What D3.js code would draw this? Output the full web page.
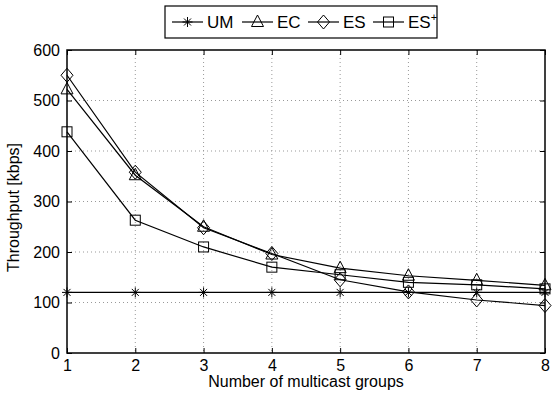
<!DOCTYPE html>
<html>
<head>
<meta charset="utf-8">
<script src="https://cdn.jsdelivr.net/npm/d3@7"></script>
<style>
  body { margin: 0; background: #fff; }
  svg text { font-family: "Liberation Sans", Arial, sans-serif; fill: #000; }
</style>
</head>
<body>
<svg id="chart" width="559" height="398"></svg>
<script>
// data
const groups = [1, 2, 3, 4, 5, 6, 7, 8];
const UM = [120, 120, 120, 120, 120, 120, 120, 120];
const EC = [522, 352, 250, 195, 168, 153, 144, 134];
const ES = [550, 358, 248, 197, 145, 121, 105, 94];
const ESplus = [438, 263, 210, 170, 155, 140, 135, 127];
const yTicks = [0, 100, 200, 300, 400, 500, 600];

const series = [
  { name: "UM", values: UM, marker: "star" },
  { name: "EC", values: EC, marker: "triangle" },
  { name: "ES", values: ES, marker: "diamond" },
  { name: "ES+", values: ESplus, marker: "square" },
];

const svg = d3.select("#chart");
const margin = { top: 50, right: 14, bottom: 45, left: 67 };
const width = 559 - margin.left - margin.right,
  height = 398 - margin.top - margin.bottom;

const g = svg
  .append("g")
  .attr("transform", "translate(" + margin.left + "," + margin.top + ")");

const xScale = d3.scaleLinear().domain([1, 8]).range([0, width]);
const yScale = d3.scaleLinear().domain([0, 600]).range([height, 0]);

//===== grid =====
g.selectAll(".vgrid")
  .data(groups.slice(1, -1))
  .enter()
  .append("line")
  .attr("x1", (d) => xScale(d))
  .attr("x2", (d) => xScale(d))
  .attr("y1", 0)
  .attr("y2", height)
  .attr("stroke", "#999")
  .attr("stroke-dasharray", "1,3");
g.selectAll(".hgrid")
  .data(yTicks.slice(1, -1))
  .enter()
  .append("line")
  .attr("y1", (d) => yScale(d))
  .attr("y2", (d) => yScale(d))
  .attr("x1", 0)
  .attr("x2", width)
  .attr("stroke", "#999")
  .attr("stroke-dasharray", "1,3");

//===== axes (ticks pointing inward, box all round) =====
const xAxis = d3.axisBottom(xScale).tickValues(groups).tickSize(-5).tickPadding(7).tickFormat(d3.format("d"));
const yAxis = d3.axisLeft(yScale).tickValues(yTicks).tickSize(-5).tickPadding(7);
const xTop = d3.axisTop(xScale).tickValues(groups).tickSize(-5).tickFormat("");
const yRight = d3.axisRight(yScale).tickValues(yTicks).tickSize(-5).tickFormat("");

const styleAxis = (sel) => {
  sel.selectAll(".domain").remove();
  sel.selectAll("line").attr("stroke", "#000");
  sel.selectAll("text").style("font-size", "16px");
};
g.append("g").attr("transform", `translate(0,${height})`).call(xAxis).call(styleAxis);
g.append("g").call(yAxis).call(styleAxis);
g.append("g").call(xTop).call(styleAxis);
g.append("g").attr("transform", `translate(${width},0)`).call(yRight).call(styleAxis);

g.append("rect")
  .attr("width", width)
  .attr("height", height)
  .attr("fill", "none")
  .attr("stroke", "#000")
  .attr("stroke-width", 1.5);

//===== lines and markers =====
const line = d3
  .line()
  .x((d, i) => xScale(groups[i]))
  .y((d) => yScale(d));

const drawMarker = (sel, type) => {
  if (type === "star") {
    sel.append("path")
      .attr("d", "M-5,0H5M0,-5V5M-3.5,-3.5L3.5,3.5M-3.5,3.5L3.5,-3.5")
      .attr("stroke", "#000").attr("fill", "none");
  } else if (type === "triangle") {
    sel.append("path").attr("d", "M0,-7L6,4.5H-6Z")
      .attr("stroke", "#000").attr("fill", "none");
  } else if (type === "diamond") {
    sel.append("path").attr("d", "M0,-7L6,0L0,7L-6,0Z")
      .attr("stroke", "#000").attr("fill", "none");
  } else {
    sel.append("rect").attr("x", -5).attr("y", -5).attr("width", 10).attr("height", 10)
      .attr("stroke", "#000").attr("fill", "none");
  }
};

series.forEach((s) => {
  g.append("path")
    .datum(s.values)
    .attr("d", line)
    .attr("fill", "none")
    .attr("stroke", "#000")
    .attr("stroke-width", 1.2);
  s.values.forEach((v, i) => {
    const m = g.append("g").attr("transform", `translate(${xScale(groups[i])},${yScale(v)})`);
    drawMarker(m, s.marker);
  });
});

//===== axis labels =====
svg.append("text")
  .attr("x", margin.left + width / 2)
  .attr("y", 387)
  .attr("text-anchor", "middle")
  .style("font-size", "16px")
  .text("Number of multicast groups");
svg.append("text")
  .attr("transform", `translate(19,${margin.top + height / 2 + 6}) rotate(-90)`)
  .attr("text-anchor", "middle")
  .style("font-size", "16px")
  .text("Throughput [kbps]");

//===== legend =====
const legend = svg.append("g");
legend.append("rect")
  .attr("x", 165).attr("y", 6).attr("width", 272).attr("height", 32)
  .attr("fill", "#fff").attr("stroke", "#000").attr("stroke-width", 1.2);
const legX = [172, 242, 308, 373];
series.forEach((s, i) => {
  const lg = legend.append("g").attr("transform", `translate(${legX[i]},22)`);
  lg.append("line").attr("x1", 0).attr("x2", 31).attr("stroke", "#000").attr("stroke-width", 1.2);
  drawMarker(lg.append("g").attr("transform", "translate(15.5,0)"), s.marker);
  const t = lg.append("text").attr("x", 35).attr("y", 6).style("font-size", "17px");
  if (s.name === "ES+") {
    t.text("ES");
    t.append("tspan").attr("dy", -7).style("font-size", "11px").text("+");
  } else {
    t.text(s.name);
  }
});
</script>
</body>
</html>
